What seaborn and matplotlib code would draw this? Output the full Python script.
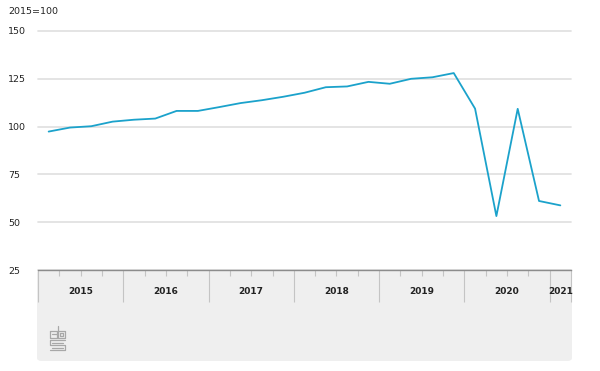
import matplotlib
matplotlib.use("Agg")
import matplotlib.pyplot as plt
import seaborn as sns
import pandas as pd
import numpy as np
from matplotlib.patches import FancyBboxPatch

# Data: quarterly index 2015=100, 2015Q1 .. 2021Q1
quarters = [f"{y}K{q}" for y in range(2015, 2021) for q in range(1, 5)] + ["2021K1"]
values = [97.4, 99.5, 100.2, 102.6,
          103.6, 104.2, 108.2, 108.2,
          110.2, 112.3, 113.8, 115.6,
          117.7, 120.6, 121.0, 123.4,
          122.4, 125.0, 125.8, 128.0,
          109.4, 53.2, 109.3, 61.1,
          58.8]
year_labels = ["2015", "2016", "2017", "2018", "2019", "2020", "2021"]
y_ticks = [25, 50, 75, 100, 125, 150]

df = pd.DataFrame({"pos": np.arange(len(quarters)), "quarter": quarters, "value": values})

sns.set_theme(style="white")
plt.rcParams['font.family'] = ['DejaVu Sans']

W, H = 600, 371
fig = plt.figure(figsize=(W / 100, H / 100), dpi=100)

left, right, top, bottom = 38, 571, 31, 270
ax = fig.add_axes([left / W, 1 - bottom / H, (right - left) / W, (bottom - top) / H])
ax.set_zorder(2)

# grey footer box
box = FancyBboxPatch((37 / W, 1 - 361 / H), (572 - 37) / W, (361 - 270) / H,
                     boxstyle="round,pad=0,rounding_size=0.008",
                     transform=fig.transFigure, facecolor="#efefef", edgecolor="none", zorder=-5)
fig.patches.append(box)

sns.lineplot(data=df, x="pos", y="value", ax=ax, color="#1ba2cb", linewidth=1.3, zorder=3)

n = len(quarters)
ax.set_xlim(-0.5, n - 0.5)
ax.set_ylim(25, 150)
ax.set_yticks(y_ticks)
ax.set_yticklabels([str(v) for v in y_ticks], fontsize=6.8, color="#222222")
ax.tick_params(axis="y", length=0, pad=21.5)
for lab in ax.get_yticklabels():
    lab.set_horizontalalignment("left")
ax.yaxis.grid(True, color="#e2e2e2", linewidth=1.3)
for gl in ax.get_ygridlines():
    gl.set_clip_on(False)
ax.set_axisbelow(True)
ax.set_xlabel("")
ax.set_ylabel("")
for s in ["top", "right", "left"]:
    ax.spines[s].set_visible(False)
ax.spines["bottom"].set_color("#8c8c8c")
ax.spines["bottom"].set_linewidth(1.0)
ax.patch.set_alpha(0)

# ticks: year boundaries long, quarter boundaries short
bounds = np.arange(-0.5, n, 1.0)
year_b = [b for b in bounds if int(round(b + 0.5)) % 4 == 0] + [n - 0.5]
quarter_b = [b for b in bounds if b not in year_b]
ax.set_xticks(year_b)
ax.set_xticklabels([])
ax.set_xticks(quarter_b, minor=True)
ax.tick_params(axis="x", which="both", bottom=True)
ax.tick_params(axis="x", which="major", length=23, width=0.8, color="#c4c4c4", direction="out")
ax.tick_params(axis="x", which="minor", length=4.5, width=0.8, color="#c4c4c4", direction="out")

# year labels centred in each year band
for i, yl in enumerate(year_labels):
    qs = [k for k, q in enumerate(quarters) if q.startswith(yl)]
    cx = (qs[0] + qs[-1]) / 2
    ax.text(cx, -0.092, yl, transform=ax.get_xaxis_transform(), ha="center", va="center",
            fontsize=6.5, fontweight="semibold", color="#222222")

fig.text(8 / W, 1 - 12 / H, "2015=100", fontsize=6.8, color="#222222", va="center", ha="left")

# simple CBS-style logo
lc = "#a8a8a8"
def pl(xs, ys):
    fig.add_artist(plt.Line2D([x / W for x in xs], [1 - y / H for y in ys], color=lc, linewidth=0.9,
                              transform=fig.transFigure))
pl([50, 50, 57, 57, 50], [331, 338, 338, 331, 331])
pl([52, 57], [334, 334])
pl([58, 58, 65, 65, 58], [326, 338, 338, 331, 331])
pl([60, 63, 63, 60, 60], [333, 333, 336, 336, 333])
pl([65, 50, 50, 65, 65, 50], [340, 340, 345, 345, 350, 350])
pl([52, 63], [342.5, 342.5])
pl([52, 63], [347.5, 347.5])

fig.savefig("out.png", dpi=100)
